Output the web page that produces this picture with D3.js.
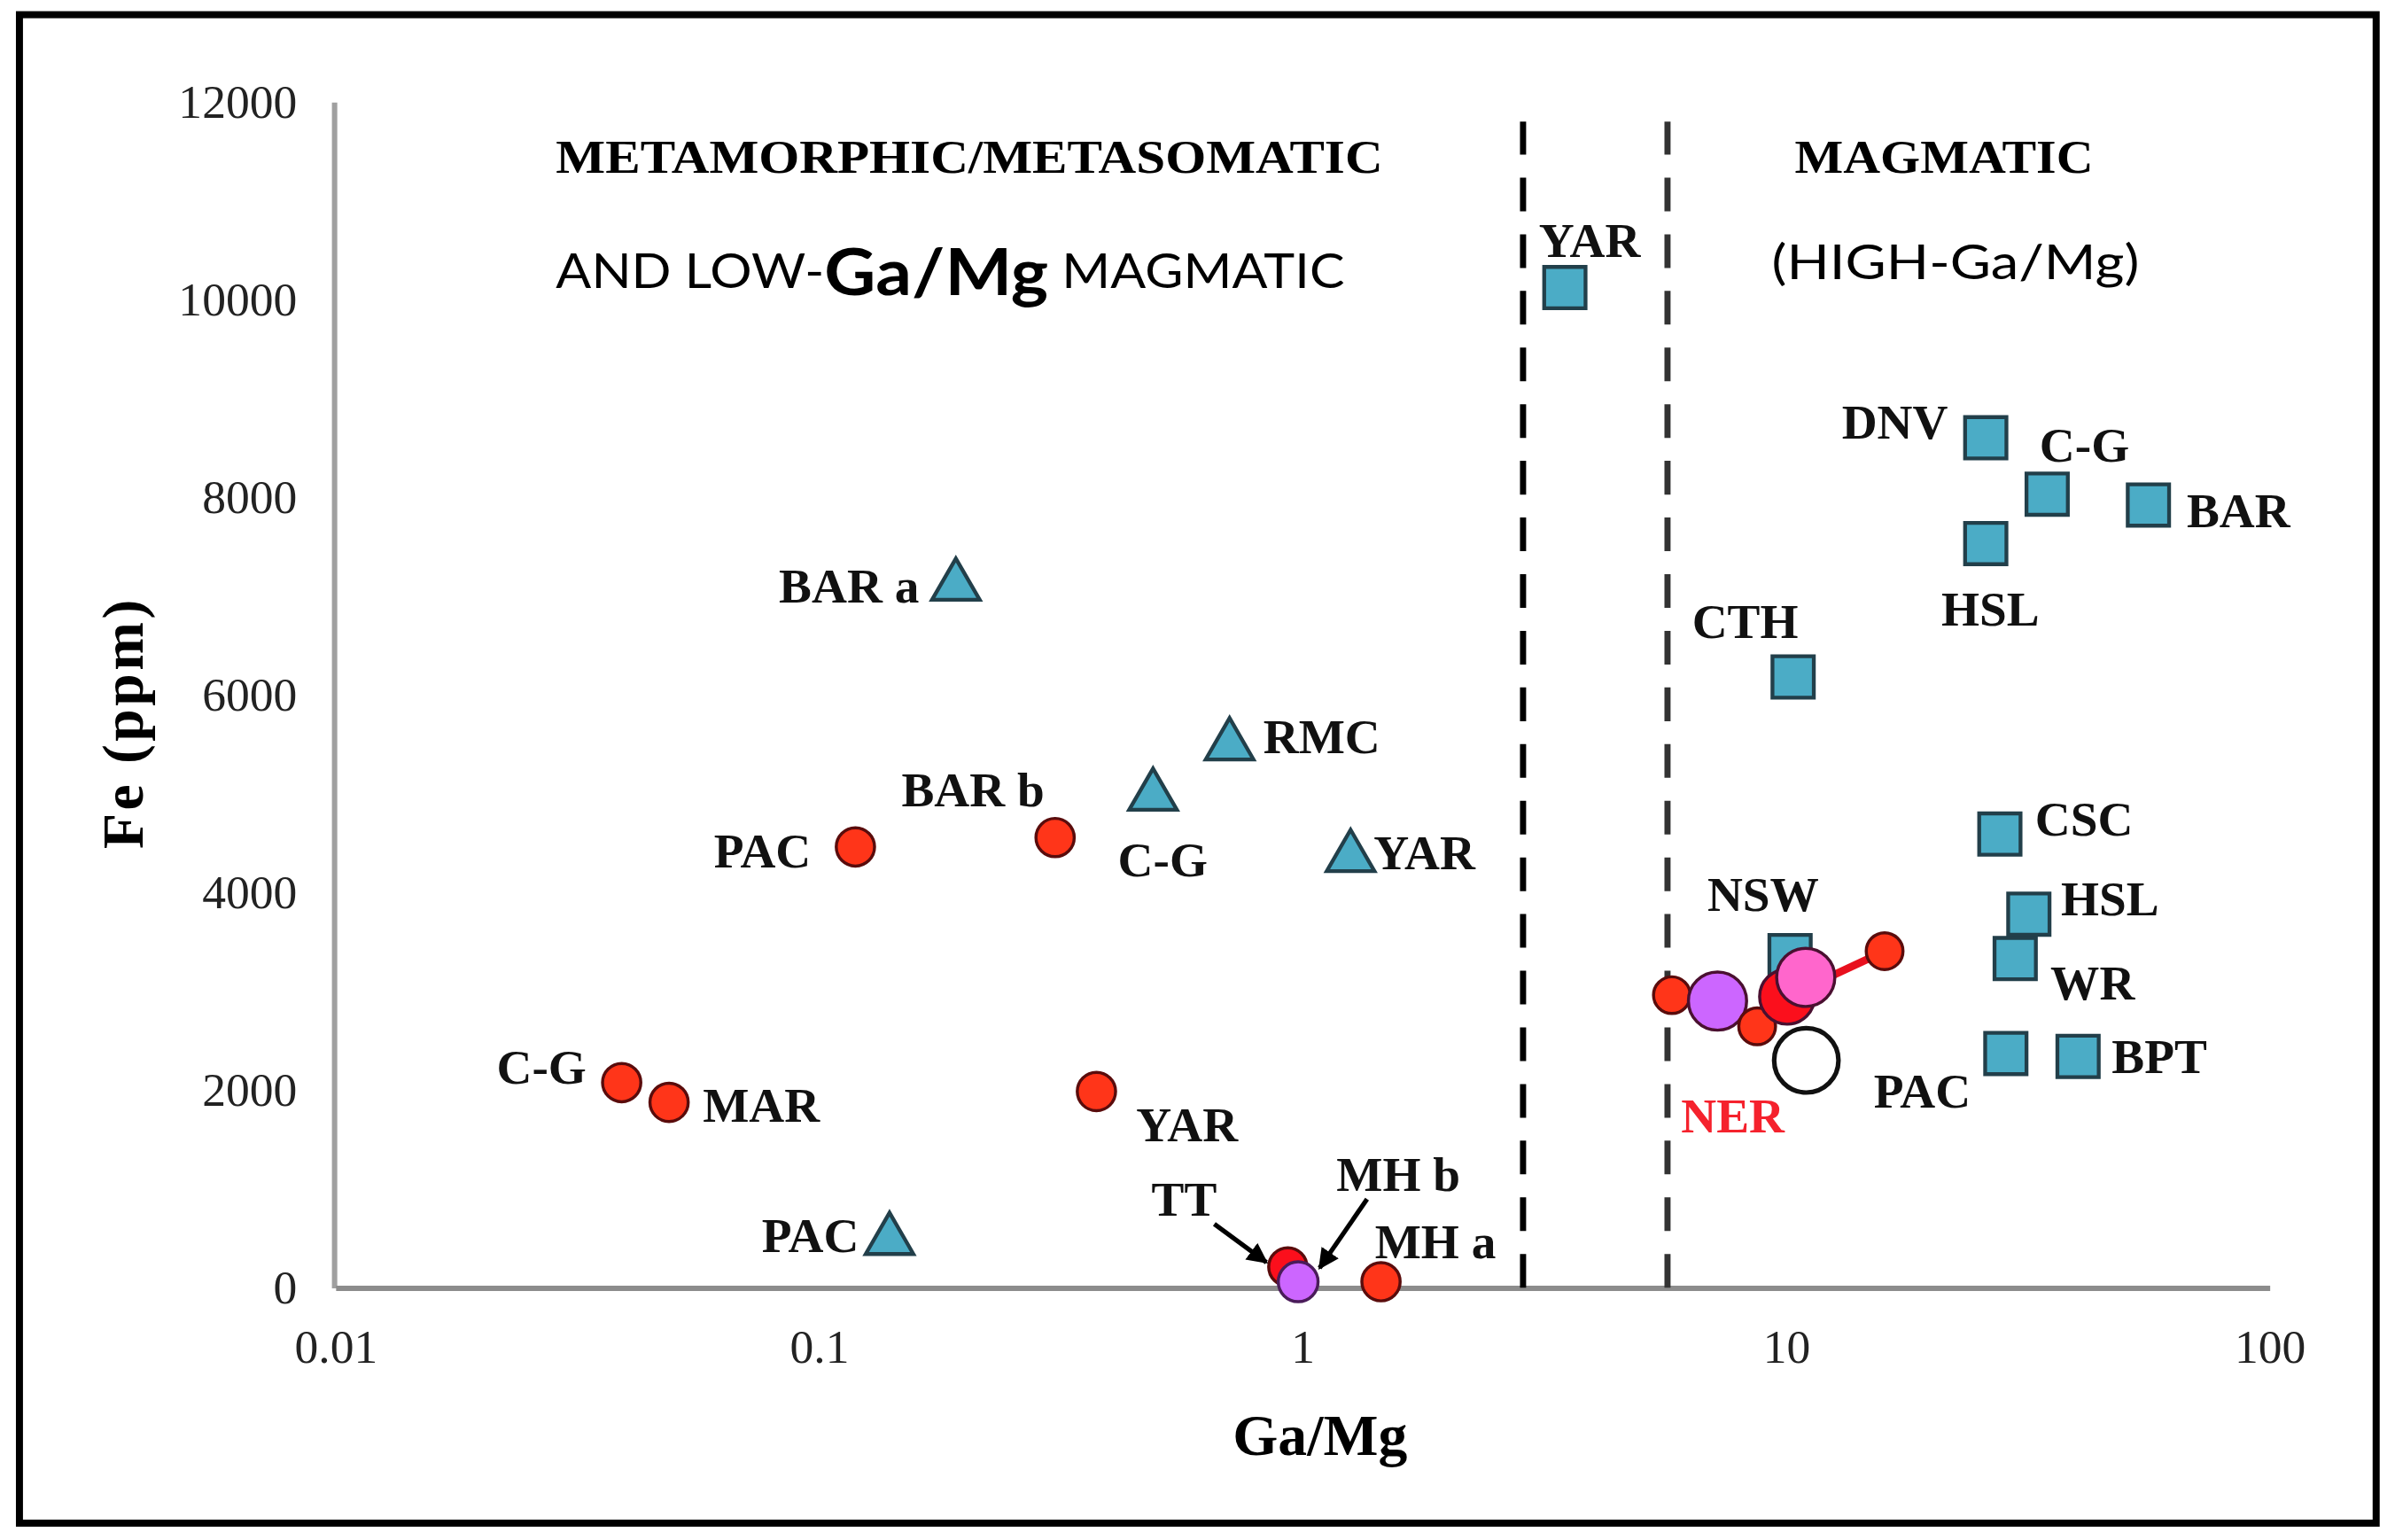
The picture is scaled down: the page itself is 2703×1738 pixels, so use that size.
<!DOCTYPE html>
<html>
<head>
<meta charset="utf-8">
<script src="https://cdn.jsdelivr.net/npm/d3@7"></script>
<style>
  body { margin: 0; background: #fff; overflow: hidden; }
</style>
</head>
<body>
<script>
// ---- data ----
// axis ticks
var gaMgTicks = [0.01, 0.1, 1, 10, 100];
var gaMgTickLabels = ['0.01', '0.1', '1', '10', '100'];
var feTicks = [0, 2000, 4000, 6000, 8000, 10000, 12000];

// Ga/Mg field boundaries (dashed lines)
var boundaryGaMg = [2.86, 5.69];

// blue squares
var squareNames = ['YAR', 'DNV', 'C-G', 'BAR', 'HSL', 'CTH', 'CSC', 'HSL', 'WR', 'NSW', '', 'BPT'];
var squareGaMg = [3.49, 25.9, 34.7, 56.2, 25.9, 10.35, 27.7, 31.8, 29.8, 10.2, 28.5, 40.2];
var squareFe = [10120, 8600, 8030, 7920, 7530, 6180, 4590, 3780, 3330, 3360, 2370, 2340];

// blue triangles
var triangleNames = ['BAR a', 'RMC', 'C-G', 'YAR', 'PAC'];
var triangleGaMg = [0.192, 0.707, 0.491, 1.258, 0.140];
var triangleFe = [7100, 5485, 4975, 4355, 480];

// red circles
var circleNames = ['PAC', 'BAR b', 'C-G', 'MAR', 'YAR', 'MH a', 'TT'];
var circleGaMg = [0.119, 0.308, 0.0391, 0.049, 0.375, 1.454, 0.933];
var circleFe = [4460, 4555, 2075, 1875, 1985, 60, 210];

// violet circle next to TT (MH b)
var violetNames = ['MH b'];
var violetGaMg = [0.98];
var violetFe = [60];

// NER samples
var nerGaMg = [5.81, 7.22, 8.72, 10.06, 10.99, 16.0];
var nerFe = [2960, 2900, 2645, 2945, 3140, 3405];
var nerKind = ['red', 'violet', 'red', 'bright', 'pink', 'red'];

// open circle
var openNames = ['PAC'];
var openGaMg = [11.02];
var openFe = [2300];

// ---- layout / style ----
var W = 1564, H = 1005.8;
var SERIF = '"Liberation Serif", "Times New Roman", serif';
var SANS = 'Lato, "Open Sans", "Liberation Sans", sans-serif';
var BLUE = '#4bacc6', BLUE_EDGE = '#223f4a';
var RED = '#ff3519', RED_EDGE = '#5a0c0c';
var nerStyle = {
    red: { r: 12, fill: RED },
    violet: { r: 19, fill: '#cc66ff' },
    bright: { r: 18, fill: '#fb0f1c' },
    pink: { r: 19, fill: '#ff66cc' }
};

// label offsets [dx, dy, anchor]
var squareLabelPos = [[-17, -31, 'start'], [-94, -10, 'start'], [-5, -32, 'start'], [25, 4, 'start'],
    [-29, 43, 'start'], [-66, -36, 'start'], [23, -10, 'start'], [21, -10, 'start'], [23, 16, 'start'],
    [-54, -40, 'start'], [0, 0, 'start'], [22, 0, 'start']];
var triangleLabelPos = [[-24, 0, 'end'], [22, -6, 'start'], [-23, 42, 'start'], [15, -3, 'start'], [-20, -3, 'end']];
var circleLabelPos = [[-29, 3, 'end'], [-7, -31, 'end'], [-23, -10, 'end'], [22, 2, 'start'], [26, 22, 'start'],
    [-4, -26, 'start'], [-89, -44, 'start']];
var violetLabelPos = [[25, -70, 'start']];
var openLabelPos = [[44, 20, 'start']];

var svg = d3.select('body').append('svg')
    .attr('width', 2703).attr('height', 1738)
    .attr('viewBox', '0 0 ' + W + ' ' + H)
    .attr('preserveAspectRatio', 'none');

svg.append('rect')
    .attr('x', 12.7).attr('y', 9.6).attr('width', 1539).attr('height', 985.2)
    .attr('fill', '#fff').attr('stroke', '#000').attr('stroke-width', 4.6);

var x = d3.scaleLog().domain([0.01, 100]).range([219, 1482]);
var y = d3.scaleLinear().domain([0, 12000]).range([841, 66.5]);

// axes
var yAxis = svg.append('g')
    .attr('transform', 'translate(218,0)')
    .call(d3.axisLeft(y).tickValues(feTicks).tickSize(0).tickPadding(24).tickFormat(d3.format('d')));
yAxis.select('.domain').attr('stroke', '#a0a0a0').attr('stroke-width', 3.5);
yAxis.selectAll('text')
    .attr('font-family', SERIF).attr('font-size', 31).attr('fill', '#222');

var xAxis = svg.append('g')
    .attr('transform', 'translate(0,841)')
    .call(d3.axisBottom(x).tickValues(gaMgTicks).tickSize(0)
        .tickFormat(function (d, i) { return gaMgTickLabels[i]; }));
xAxis.select('.domain').attr('stroke', '#8c8c8c').attr('stroke-width', 3.5);
xAxis.selectAll('text')
    .attr('y', 38).attr('dy', '0.35em')
    .attr('font-family', SERIF).attr('font-size', 31).attr('fill', '#222');

// axis titles
svg.append('text')
    .attr('transform', 'translate(80,472) rotate(-90)')
    .attr('text-anchor', 'middle').attr('dominant-baseline', 'central')
    .attr('font-family', SERIF).attr('font-weight', 'bold').attr('font-size', 38)
    .attr('letter-spacing', 2)
    .text('Fe (ppm)');
svg.append('text')
    .attr('x', 862).attr('y', 937)
    .attr('text-anchor', 'middle').attr('dominant-baseline', 'central')
    .attr('font-family', SERIF).attr('font-weight', 'bold').attr('font-size', 38)
    .text('Ga/Mg');

// field boundaries
svg.selectAll('line.boundary').data(boundaryGaMg)
    .enter().append('line')
    .attr('class', 'boundary')
    .attr('x1', function (d) { return x(d); }).attr('x2', function (d) { return x(d); })
    .attr('y1', y(0)).attr('y2', y(11800))
    .attr('stroke', function (d, i) { return i ? '#333' : '#000'; })
    .attr('stroke-width', 4)
    .attr('stroke-dasharray', '22,15');

// field headers
svg.append('text')
    .attr('x', 363).attr('y', 103).attr('dominant-baseline', 'central')
    .attr('font-family', SERIF).attr('font-weight', 'bold').attr('font-size', 30)
    .attr('textLength', 540).attr('lengthAdjust', 'spacingAndGlyphs')
    .text('METAMORPHIC/METASOMATIC');
var h2 = svg.append('text')
    .attr('x', 363).attr('y', 176).attr('dominant-baseline', 'central')
    .attr('font-family', SANS).attr('font-size', 31)
    .attr('textLength', 515).attr('lengthAdjust', 'spacingAndGlyphs');
h2.append('tspan').text('AND LOW-');
h2.append('tspan').attr('font-size', 42).attr('font-weight', 'bold').text('Ga/Mg');
h2.append('tspan').text(' MAGMATIC');
svg.append('text')
    .attr('x', 1172).attr('y', 103).attr('dominant-baseline', 'central')
    .attr('font-family', SERIF).attr('font-weight', 'bold').attr('font-size', 30)
    .attr('textLength', 195).attr('lengthAdjust', 'spacingAndGlyphs')
    .text('MAGMATIC');
svg.append('text')
    .attr('x', 1157).attr('y', 170).attr('dominant-baseline', 'central')
    .attr('font-family', SANS).attr('font-size', 31)
    .attr('textLength', 240).attr('lengthAdjust', 'spacingAndGlyphs')
    .text('(HIGH-Ga/Mg)');

var labelLayer = svg.append('g');
function addLabels(names, xs, ys, pos, color) {
    labelLayer.selectAll(null).data(names)
        .enter().append('text')
        .attr('x', function (d, i) { return x(xs[i]) + pos[i][0]; })
        .attr('y', function (d, i) { return y(ys[i]) + pos[i][1]; })
        .attr('text-anchor', function (d, i) { return pos[i][2]; })
        .attr('dominant-baseline', 'central')
        .attr('font-family', SERIF).attr('font-weight', 'bold').attr('font-size', 32)
        .attr('fill', color || '#111')
        .text(function (d) { return d; });
}

// squares
svg.append('g').selectAll('path').data(squareGaMg)
    .enter().append('path')
    .attr('d', d3.symbol(d3.symbolSquare, 729))
    .attr('transform', function (d, i) { return 'translate(' + x(d) + ',' + y(squareFe[i]) + ')'; })
    .attr('fill', BLUE).attr('stroke', BLUE_EDGE).attr('stroke-width', 2.5);

// triangles
svg.append('g').selectAll('path').data(triangleGaMg)
    .enter().append('path')
    .attr('d', d3.symbol(d3.symbolTriangle, 420))
    .attr('transform', function (d, i) { return 'translate(' + x(d) + ',' + y(triangleFe[i]) + ')'; })
    .attr('fill', BLUE).attr('stroke', BLUE_EDGE).attr('stroke-width', 2.5);

// red circles
svg.append('g').selectAll('circle').data(circleGaMg)
    .enter().append('circle')
    .attr('cx', function (d) { return x(d); })
    .attr('cy', function (d, i) { return y(circleFe[i]); })
    .attr('r', 12.5)
    .attr('fill', function (d, i) { return circleNames[i] === 'TT' ? '#fb0f1c' : RED; })
    .attr('stroke', RED_EDGE).attr('stroke-width', 2);

svg.append('g').selectAll('circle').data(violetGaMg)
    .enter().append('circle')
    .attr('cx', function (d) { return x(d); })
    .attr('cy', function (d, i) { return y(violetFe[i]); })
    .attr('r', 13)
    .attr('fill', '#cc66ff').attr('stroke', '#4a1c5a').attr('stroke-width', 2);

// NER cluster
svg.append('line')
    .attr('x1', x(nerGaMg[3])).attr('y1', y(nerFe[3]))
    .attr('x2', x(nerGaMg[5])).attr('y2', y(nerFe[5]))
    .attr('stroke', '#e8101e').attr('stroke-width', 5);
svg.append('g').selectAll('circle').data(nerGaMg)
    .enter().append('circle')
    .attr('cx', function (d) { return x(d); })
    .attr('cy', function (d, i) { return y(nerFe[i]); })
    .attr('r', function (d, i) { return nerStyle[nerKind[i]].r; })
    .attr('fill', function (d, i) { return nerStyle[nerKind[i]].fill; })
    .attr('stroke', function (d, i) { return nerKind[i] === 'red' ? RED_EDGE : '#4a1030'; })
    .attr('stroke-width', 2);

svg.append('g').selectAll('circle').data(openGaMg)
    .enter().append('circle')
    .attr('cx', function (d) { return x(d); })
    .attr('cy', function (d, i) { return y(openFe[i]); })
    .attr('r', 21)
    .attr('fill', '#fff').attr('stroke', '#111').attr('stroke-width', 3);

// labels
addLabels(squareNames, squareGaMg, squareFe, squareLabelPos);
addLabels(triangleNames, triangleGaMg, triangleFe, triangleLabelPos);
addLabels(circleNames, circleGaMg, circleFe, circleLabelPos);
addLabels(violetNames, violetGaMg, violetFe, violetLabelPos);
addLabels(openNames, openGaMg, openFe, openLabelPos);
addLabels(['NER'], [nerGaMg[0]], [nerFe[0]], [[6, 79, 'start']], '#f5222d');

// arrows for TT and MH b
svg.append('defs').append('marker')
    .attr('id', 'arrow').attr('viewBox', '0 0 10 10')
    .attr('refX', 9).attr('refY', 5)
    .attr('markerWidth', 4.5).attr('markerHeight', 4.5)
    .attr('orient', 'auto')
    .append('path').attr('d', 'M0,0L10,5L0,10z').attr('fill', '#000');
var ttX = x(circleGaMg[6]), ttY = y(circleFe[6]);
var mhX = x(violetGaMg[0]), mhY = y(violetFe[0]);
svg.append('line')
    .attr('x1', ttX - 48).attr('y1', ttY - 28).attr('x2', ttX - 14).attr('y2', ttY - 3)
    .attr('stroke', '#000').attr('stroke-width', 3).attr('marker-end', 'url(#arrow)');
svg.append('line')
    .attr('x1', mhX + 45).attr('y1', mhY - 54).attr('x2', mhX + 14).attr('y2', mhY - 9)
    .attr('stroke', '#000').attr('stroke-width', 3).attr('marker-end', 'url(#arrow)');
</script>
</body>
</html>
